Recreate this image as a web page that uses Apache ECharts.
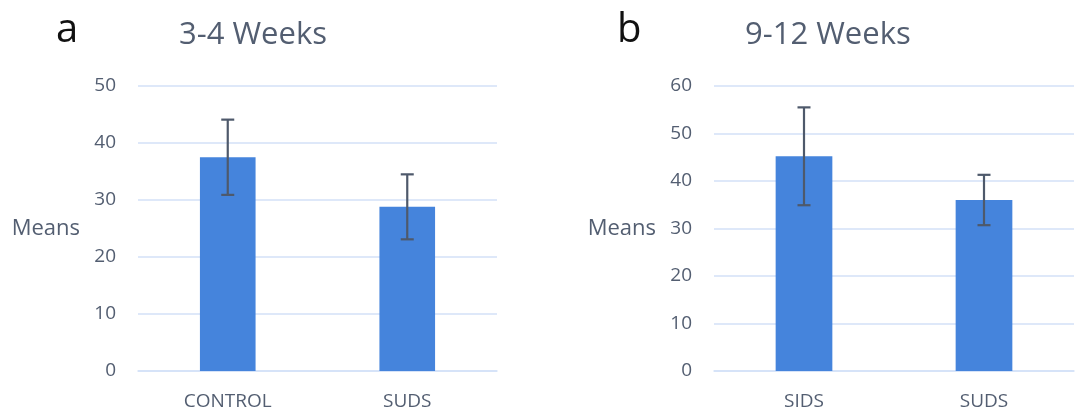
<!DOCTYPE html>
<html>
<head>
<meta charset="utf-8">
<script src="https://cdn.jsdelivr.net/npm/echarts@6/dist/echarts.min.js"></script>
<style>
  html, body { margin: 0; padding: 0; background: #ffffff; }
  #chart { width: 1075px; height: 415px; }
</style>
</head>
<body>
<div id="chart"></div>
<script>
// Panel a: 3-4 weeks
const categoriesA = ['CONTROL', 'SUDS'];
const meansA = [37.5, 28.8];
const errorsA = [6.6, 5.7];

// Panel b: 9-12 weeks
const categoriesB = ['SIDS', 'SUDS'];
const meansB = [45.2, 36.0];
const errorsB = [10.3, 5.3];

const yTicksA = { min: 0, max: 50, interval: 10 };
const yTicksB = { min: 0, max: 60, interval: 10 };

const TEXT = '#535e71';
const GRID_LINE = '#d3e1f7';
const BAR = '#4584dc';
const ERR = '#4e596b';
const FONT = '"Open Sans", sans-serif';

function errorData(means, errs) {
  return means.map((m, i) => [i, m - errs[i], m + errs[i]]);
}

function renderError(params, api) {
  const x = api.value(0);
  const lo = api.coord([x, api.value(1)]);
  const hi = api.coord([x, api.value(2)]);
  const cap = 6.5;
  const style = { stroke: ERR, lineWidth: 2.2 };
  return {
    type: 'group',
    children: [
      { type: 'line', shape: { x1: hi[0], y1: hi[1], x2: lo[0], y2: lo[1] }, style },
      { type: 'line', shape: { x1: hi[0] - cap, y1: hi[1], x2: hi[0] + cap, y2: hi[1] }, style },
      { type: 'line', shape: { x1: lo[0] - cap, y1: lo[1], x2: lo[0] + cap, y2: lo[1] }, style }
    ]
  };
}

function xAxisFor(idx, cats) {
  return {
    type: 'category', gridIndex: idx, data: cats,
    axisLine: { lineStyle: { color: GRID_LINE, width: 1.5 } },
    axisTick: { show: false },
    axisLabel: { color: TEXT, fontSize: 19, fontFamily: FONT, margin: 21 }
  };
}

function yAxisFor(idx, ticks) {
  return {
    type: 'value', gridIndex: idx,
    min: ticks.min, max: ticks.max, interval: ticks.interval,
    name: 'Means', nameLocation: 'middle', nameRotate: 0, nameGap: 58,
    nameTextStyle: { color: TEXT, fontSize: 22, fontFamily: FONT, align: 'right', padding: [6, 0, 0, 0] },
    axisLine: { show: false },
    axisTick: { show: false },
    axisLabel: { color: TEXT, fontSize: 19, fontFamily: FONT, margin: 22 },
    splitLine: { lineStyle: { color: GRID_LINE, width: 1.5 } }
  };
}

const chart = echarts.init(document.getElementById('chart'), null, { renderer: 'canvas' });

chart.setOption({
  animation: false,
  backgroundColor: '#ffffff',
  title: [
    { text: 'a', left: 51, top: 6, textStyle: { color: '#111', fontSize: 40, fontWeight: 'normal', fontFamily: FONT } },
    { text: '3-4 Weeks', left: 174, top: 15, textStyle: { color: TEXT, fontSize: 31, fontWeight: 'normal', fontFamily: FONT } },
    { text: 'b', left: 612, top: 6, textStyle: { color: '#111', fontSize: 40, fontWeight: 'normal', fontFamily: FONT } },
    { text: '9-12 Weeks', left: 740, top: 15, textStyle: { color: TEXT, fontSize: 31, fontWeight: 'normal', fontFamily: FONT } }
  ],
  grid: [
    { left: 138, right: 578, top: 86, bottom: 44, containLabel: false },
    { left: 714, right: 1, top: 86, bottom: 44, containLabel: false }
  ],
  xAxis: [xAxisFor(0, categoriesA), xAxisFor(1, categoriesB)],
  yAxis: [yAxisFor(0, yTicksA), yAxisFor(1, yTicksB)],
  series: [
    {
      type: 'bar', xAxisIndex: 0, yAxisIndex: 0, data: meansA,
      barWidth: '31%', itemStyle: { color: BAR }
    },
    {
      type: 'custom', xAxisIndex: 0, yAxisIndex: 0,
      data: errorData(meansA, errorsA), renderItem: renderError, z: 5
    },
    {
      type: 'bar', xAxisIndex: 1, yAxisIndex: 1, data: meansB,
      barWidth: '31.5%', itemStyle: { color: BAR }
    },
    {
      type: 'custom', xAxisIndex: 1, yAxisIndex: 1,
      data: errorData(meansB, errorsB), renderItem: renderError, z: 5
    }
  ]
});
</script>
</body>
</html>
